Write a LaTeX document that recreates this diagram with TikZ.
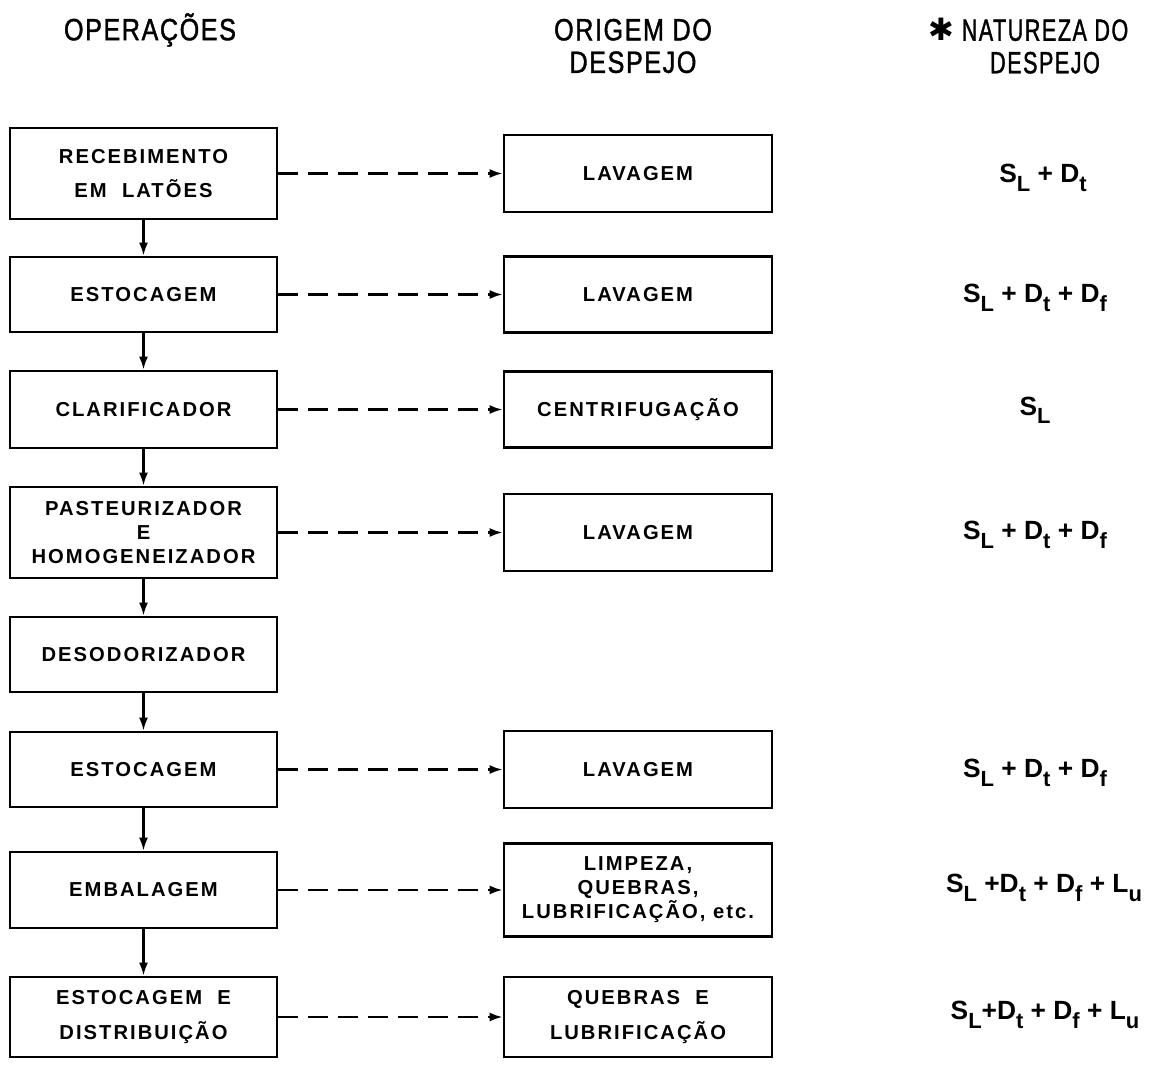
\documentclass[tikz,border=0pt]{standalone}
\usepackage{fontspec}
\setmainfont{Liberation Sans}
\newfontfamily\boxfont[LetterSpace=10]{Liberation Sans}
\newfontfamily\headfont[LetterSpace=5,FakeStretch=0.82,FakeBold=1.2]{Liberation Sans}
\newfontfamily\narrowhead[LetterSpace=5,FakeStretch=0.7,FakeBold=1.2]{Liberation Sans}
\newfontfamily\symfont{DejaVu Sans}
\usetikzlibrary{arrows.meta,positioning}
\newcommand{\sbs}[1]{\raisebox{-0.6ex}{\fontsize{12.5}{12.5}\selectfont #1}}
\tikzset{
    op box/.style={
        draw,
        line width=1.6pt,
        minimum width=5.34cm,
        align=center,
        inner sep=0pt,
        font=\boxfont\bfseries\fontsize{11.5}{13.6}\selectfont
    },
    src box/.style={
        draw,
        line width=1.6pt,
        minimum width=5.36cm,
        align=center,
        inner sep=0pt,
        font=\boxfont\bfseries\fontsize{11.5}{13.6}\selectfont
    },
    head/.style={align=center, font=\headfont\fontsize{17.5}{18.5}\selectfont},
    waste/.style={font=\bfseries\fontsize{15}{17}\selectfont},
    flow arrow/.style={-{Latex[length=2.6mm,width=1.8mm]}, line width=1.3pt},
    waste arrow/.style={-{Latex[length=2.6mm,width=1.8mm]}, line width=1.3pt, dash pattern=on 0.4cm off 0.2cm}
}
\begin{document}
\begin{tikzpicture}[x=0.02cm,y=-0.02cm]
    \useasboundingbox (0,0) rectangle (1163,1069);

    \node[head] (hop) at (150,30) {OPERAÇÕES};
    \node[head] (hsrc) at (633,46) {ORIGEM DO\\DESPEJO};
    \node[head, font=\narrowhead\fontsize{17.5}{18.5}\selectfont] (hnat) at (1045,46) {\llap{{\symfont ✱} }NATUREZA DO\\DESPEJO};

    \node[op box, minimum height=1.82cm] (rec) at (143.5,173.5) {RECEBIMENTO\\[6pt]EM\ \ LATÕES};
    \node[op box, minimum height=1.5cm] (est1) at (143.5,294.5) {ESTOCAGEM};
    \node[op box, minimum height=1.54cm] (cla) at (143.5,409.5) {CLARIFICADOR};
    \node[op box, minimum height=1.82cm] (pas) at (143.5,532.5) {PASTEURIZADOR\\E\\HOMOGENEIZADOR};
    \node[op box, minimum height=1.5cm] (des) at (143.5,654.5) {DESODORIZADOR};
    \node[op box, minimum height=1.5cm] (est2) at (143.5,769.5) {ESTOCAGEM};
    \node[op box, minimum height=1.52cm] (emb) at (143.5,890) {EMBALAGEM};
    \node[op box, minimum height=1.6cm] (dist) at (143.5,1017) {ESTOCAGEM\ \ E\\[6pt]DISTRIBUIÇÃO};

    \node[src box, minimum height=1.54cm] (lav1) at (638,173.5) {LAVAGEM};
    \node[src box, minimum height=1.52cm] (lav2) at (638,294.5) {LAVAGEM};
    \node[src box, minimum height=1.52cm] (cen) at (638,409.5) {CENTRIFUGAÇÃO};
    \node[src box, minimum height=1.54cm] (lav3) at (638,532.5) {LAVAGEM};
    \node[src box, minimum height=1.54cm] (lav4) at (638,769.5) {LAVAGEM};
    \node[src box, minimum height=1.86cm] (limp) at (638,890) {LIMPEZA,\\QUEBRAS,\\LUBRIFICAÇÃO, etc.};
    \node[src box, minimum height=1.6cm] (queb) at (638,1017) {QUEBRAS\ \ E\\[6pt]LUBRIFICAÇÃO};

    \node[waste] (n1) at (1043,178) {S\sbs{L} + D\sbs{t}};
    \node[waste] (n2) at (1035,298) {S\sbs{L}\ + D\sbs{t}\ + D\sbs{f}};
    \node[waste] (n3) at (1035,410) {S\sbs{L}};
    \node[waste] (n4) at (1035,535) {S\sbs{L}\ + D\sbs{t}\ + D\sbs{f}};
    \node[waste] (n6) at (1035,773) {S\sbs{L}\ + D\sbs{t}\ + D\sbs{f}};
    \node[waste] (n7) at (1044,888) {S\sbs{L} +D\sbs{t}\ + D\sbs{f}\ + L\sbs{u}};
    \node[waste] (n8) at (1045,1015) {S\sbs{L}+D\sbs{t}\ + D\sbs{f}\ + L\sbs{u}};

    \draw[flow arrow] (rec) -- (est1);
    \draw[flow arrow] (est1) -- (cla);
    \draw[flow arrow] (cla) -- (pas);
    \draw[flow arrow] (pas) -- (des);
    \draw[flow arrow] (des) -- (est2);
    \draw[flow arrow] (est2) -- (emb);
    \draw[flow arrow] (emb) -- (dist);

    \draw[waste arrow] (rec) -- (lav1);
    \draw[waste arrow] (est1) -- (lav2);
    \draw[waste arrow] (cla) -- (cen);
    \draw[waste arrow] (pas) -- (lav3);
    \draw[waste arrow] (est2) -- (lav4);
    \draw[waste arrow] (emb) -- (limp);
    \draw[waste arrow] (dist) -- (queb);
\end{tikzpicture}
\end{document}
